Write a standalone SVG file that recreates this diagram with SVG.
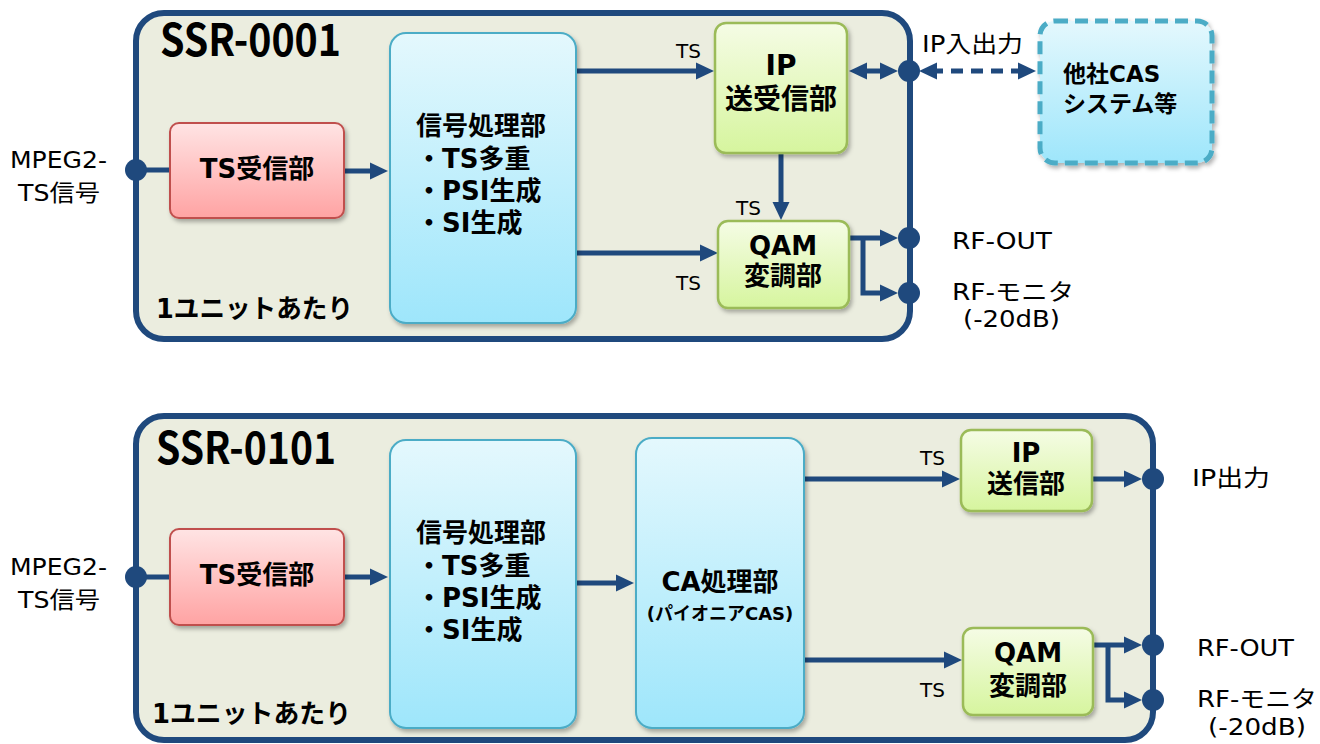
<svg xmlns="http://www.w3.org/2000/svg" width="1320" height="744" viewBox="0 0 1320 744">
<defs>
<style>
text{font-family:"DejaVu Sans","Noto Sans CJK JP",sans-serif;fill:#000}
.lbl{font-size:23px}
.ts{font-size:20px}
.b{font-weight:bold;font-size:26px}
.b28{font-weight:bold;font-size:28px}
.b23{font-weight:bold;font-size:23px}
.b25{font-weight:bold;font-size:26px}
.title{font-family:"Noto Sans CJK JP","DejaVu Sans",sans-serif;font-weight:bold;font-size:44px}
.panel{fill:#EBEDDF;stroke:#1F497D;stroke-width:6}
.pink{fill:url(#gPink);stroke:#C0504D;stroke-width:2;filter:url(#sh)}
.cyan{fill:url(#gCyan);stroke:#4BACC6;stroke-width:2;filter:url(#sh)}
.green{fill:url(#gGreen);stroke:#9BBB59;stroke-width:2.5;filter:url(#sh)}
.cas{fill:url(#gCyan);stroke:#4BACC6;stroke-width:5;stroke-dasharray:13 7;filter:url(#sh)}
.ln{fill:none;stroke:#1F497D;stroke-width:5}
.arr{marker-end:url(#ah)}
.arr2{marker-start:url(#ah);marker-end:url(#ah)}
.dash{stroke-dasharray:12 8}
.dot{fill:#1F497D}
</style>
<linearGradient id="gPink" x1="0" y1="0" x2="0" y2="1"><stop offset="0" stop-color="#FFE4E4"/><stop offset="1" stop-color="#FFA3A3"/></linearGradient>
<linearGradient id="gCyan" x1="0" y1="0" x2="0" y2="1"><stop offset="0" stop-color="#E4F8FD"/><stop offset="1" stop-color="#9EE6FB"/></linearGradient>
<linearGradient id="gGreen" x1="0" y1="0" x2="0" y2="1"><stop offset="0" stop-color="#F5FCE5"/><stop offset="1" stop-color="#D6F59E"/></linearGradient>
<filter id="sh" x="-10%" y="-10%" width="130%" height="130%"><feDropShadow dx="2" dy="3" stdDeviation="2" flood-color="#000" flood-opacity="0.3"/></filter>
<marker id="ah" markerUnits="userSpaceOnUse" markerWidth="18" markerHeight="18" viewBox="0 0 18 18" refX="6" refY="9" orient="auto-start-reverse"><path d="M0,0.5 L18,9 L0,17.5 z" fill="#1F497D"/></marker>
</defs>

<!-- ===== Top unit SSR-0001 ===== -->
<g id="panel-ssr0001">
<rect class="panel" x="136" y="13" width="774" height="326" rx="28"/>
<text class="title" x="160" y="56" textLength="181" lengthAdjust="spacingAndGlyphs">SSR-0001</text>
<text class="b25" x="156" y="318" textLength="197" lengthAdjust="spacingAndGlyphs">1ユニットあたり</text>
</g>

<!-- ===== Bottom unit SSR-0101 ===== -->
<g id="panel-ssr0101">
<rect class="panel" x="136" y="416" width="1017" height="324" rx="28"/>
<text class="title" x="156" y="464" textLength="180" lengthAdjust="spacingAndGlyphs">SSR-0101</text>
<text class="b25" x="152" y="723" textLength="199" lengthAdjust="spacingAndGlyphs">1ユニットあたり</text>
</g>

<!-- connectors -->
<g id="connectors">
<!-- top -->
<line class="ln" x1="136" y1="170" x2="170" y2="170"/>
<line class="ln arr" x1="344" y1="171" x2="376" y2="171"/>
<line class="ln arr" x1="576" y1="71" x2="702" y2="71"/>
<line class="ln arr" x1="576" y1="253" x2="706" y2="253"/>
<line class="ln arr" x1="781" y1="153" x2="781" y2="208"/>
<line class="ln arr2" x1="861" y1="71" x2="886" y2="71"/>
<line class="ln arr2 dash" x1="931" y1="71" x2="1024" y2="71"/>
<line class="ln arr" x1="849" y1="238" x2="886" y2="238"/>
<polyline class="ln arr" points="863,238 863,293 886,293"/>
<!-- bottom -->
<line class="ln" x1="136" y1="577" x2="170" y2="577"/>
<line class="ln arr" x1="344" y1="577" x2="376" y2="577"/>
<line class="ln arr" x1="576" y1="583" x2="622" y2="583"/>
<line class="ln arr" x1="804" y1="479" x2="948" y2="479"/>
<line class="ln arr" x1="804" y1="660" x2="950" y2="660"/>
<line class="ln arr" x1="1092" y1="479" x2="1130" y2="479"/>
<line class="ln arr" x1="1093" y1="645" x2="1130" y2="645"/>
<polyline class="ln arr" points="1108,645 1108,700 1130,700"/>
<!-- TS labels -->
<text class="ts" x="676" y="58">TS</text>
<text class="ts" x="736" y="215">TS</text>
<text class="ts" x="676" y="290">TS</text>
<text class="ts" x="920" y="465">TS</text>
<text class="ts" x="920" y="697">TS</text>
<text class="lbl" x="922" y="52" textLength="101" lengthAdjust="spacingAndGlyphs">IP入出力</text>
</g>

<!-- ports -->
<g id="port-in-top"><circle class="dot" cx="136" cy="170" r="11"/>
<text class="lbl" x="10" y="168" textLength="97" lengthAdjust="spacingAndGlyphs">MPEG2-</text>
<text class="lbl" x="18" y="201" textLength="82" lengthAdjust="spacingAndGlyphs">TS信号</text></g>
<g id="port-ip-top"><circle class="dot" cx="909" cy="71" r="11"/></g>
<g id="port-rfout-top"><circle class="dot" cx="909" cy="238" r="11"/>
<text class="lbl" x="952" y="249" textLength="100" lengthAdjust="spacingAndGlyphs">RF-OUT</text></g>
<g id="port-rfmon-top"><circle class="dot" cx="909" cy="293" r="11"/>
<text class="lbl" x="952" y="300" textLength="122" lengthAdjust="spacingAndGlyphs">RF-モニタ</text>
<text class="lbl" x="963" y="327" textLength="97" lengthAdjust="spacingAndGlyphs">(-20dB)</text></g>

<g id="port-in-bottom"><circle class="dot" cx="136" cy="577" r="11"/>
<text class="lbl" x="10" y="575" textLength="97" lengthAdjust="spacingAndGlyphs">MPEG2-</text>
<text class="lbl" x="18" y="608" textLength="82" lengthAdjust="spacingAndGlyphs">TS信号</text></g>
<g id="port-ip-bottom"><circle class="dot" cx="1153" cy="479" r="11"/>
<text class="lbl" x="1192" y="486" textLength="78" lengthAdjust="spacingAndGlyphs">IP出力</text></g>
<g id="port-rfout-bottom"><circle class="dot" cx="1153" cy="645" r="11"/>
<text class="lbl" x="1197" y="656" textLength="97" lengthAdjust="spacingAndGlyphs">RF-OUT</text></g>
<g id="port-rfmon-bottom"><circle class="dot" cx="1153" cy="700" r="11"/>
<text class="lbl" x="1197" y="707" textLength="120" lengthAdjust="spacingAndGlyphs">RF-モニタ</text>
<text class="lbl" x="1208" y="735" textLength="98" lengthAdjust="spacingAndGlyphs">(-20dB)</text></g>

<!-- top nodes -->
<g id="ts-rx-top"><rect class="pink" x="170" y="123" width="174" height="95" rx="9"/>
<text class="b" x="257" y="178" text-anchor="middle">TS受信部</text></g>
<g id="sigproc-top"><rect class="cyan" x="390" y="33" width="186" height="290" rx="16"/>
<text class="b" x="416" y="135">信号処理部</text>
<text class="b" x="416" y="168">・TS多重</text>
<text class="b" x="416" y="200">・PSI生成</text>
<text class="b" x="416" y="232">・SI生成</text></g>
<g id="ip-trx-top"><rect class="green" x="715" y="23" width="132" height="130" rx="11"/>
<text class="b28" x="781" y="75" text-anchor="middle">IP</text>
<text class="b28" x="781" y="109" text-anchor="middle">送受信部</text></g>
<g id="qam-top"><rect class="green" x="718" y="221" width="131" height="87" rx="10"/>
<text class="b" x="783" y="255" text-anchor="middle">QAM</text>
<text class="b" x="783" y="285" text-anchor="middle">変調部</text></g>
<g id="other-cas"><rect class="cas" x="1040" y="21" width="172" height="142" rx="15"/>
<text class="b23" x="1063" y="82">他社CAS</text>
<text class="b23" x="1063" y="112">システム等</text></g>

<!-- bottom nodes -->
<g id="ts-rx-bottom"><rect class="pink" x="170" y="529" width="174" height="96" rx="9"/>
<text class="b" x="257" y="584" text-anchor="middle">TS受信部</text></g>
<g id="sigproc-bottom"><rect class="cyan" x="390" y="440" width="186" height="288" rx="16"/>
<text class="b" x="416" y="542">信号処理部</text>
<text class="b" x="416" y="575">・TS多重</text>
<text class="b" x="416" y="607">・PSI生成</text>
<text class="b" x="416" y="639">・SI生成</text></g>
<g id="ca-proc"><rect class="cyan" x="636" y="438" width="168" height="290" rx="16"/>
<text class="b" x="720" y="591" text-anchor="middle">CA処理部</text>
<text x="720" y="620" text-anchor="middle" font-weight="bold" font-size="18">(パイオニアCAS)</text></g>
<g id="ip-tx-bottom"><rect class="green" x="961" y="430" width="131" height="81" rx="10"/>
<text class="b" x="1026" y="462" text-anchor="middle">IP</text>
<text class="b" x="1026" y="493" text-anchor="middle">送信部</text></g>
<g id="qam-bottom"><rect class="green" x="963" y="628" width="130" height="87" rx="10"/>
<text class="b" x="1028" y="662" text-anchor="middle">QAM</text>
<text class="b" x="1028" y="695" text-anchor="middle">変調部</text></g>
</svg>
